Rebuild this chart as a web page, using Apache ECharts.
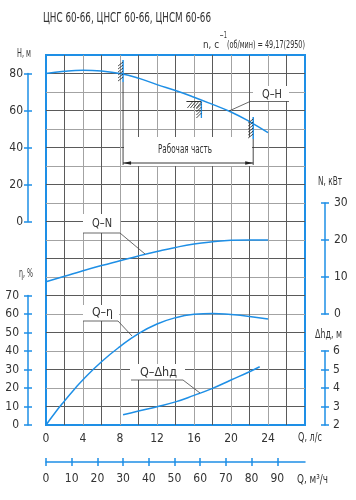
<!DOCTYPE html>
<html><head><meta charset="utf-8">
<script src="https://cdn.jsdelivr.net/npm/echarts@6/dist/echarts.min.js"></script>
<style>html,body{margin:0;padding:0;background:#fff}#c{width:356px;height:500px}</style>
</head><body><div id="c"></div>
<script>
// ---- data ----
const qH = [0,2,4,6,8,10,12,14,16,18,20,22,24];
const headH = [80,81.2,81.7,81.3,80,77.5,74,70.8,67.2,63.3,59.2,54,48];
const qN = [0,2,4,6,8,10,12,14,16,18,20,22,24];
const powerN = [8.7,10.2,11.7,13.1,14.4,15.7,16.9,18.0,18.9,19.5,19.9,20,20];
const qEta = [0,1,2,3,4,6,8,10,12,14,16,18,20,22,24];
const effEta = [0,6.8,13,18.9,24.5,34.2,42.4,49.4,54.6,58.0,59.8,60.3,59.7,58.7,57.3];
const qDh = [8.33,10,12,14,16,18,20,22,23.1];
const npshDh = [2.55,2.76,2.99,3.25,3.6,3.98,4.43,4.88,5.15];
const workQ = [8.33,16.8,22.4]; // working range start, nominal, end (л/с)
const qLsTicks = [0,4,8,12,16,20,24];
const qM3Ticks = [0,10,20,30,40,50,60,70,80,90];

const BLUE = '#1e8fe6';
const TXT = '#333';
const FONT = "'Liberation Sans Narrow','DejaVu Sans Condensed','Liberation Sans',sans-serif";
const L = 46, T = 55, W = 259, HT = 370, QMAX = 28;
const X = q => L + q * W / QMAX;

const mctx = document.createElement('canvas').getContext('2d');
function fitText(str, left, cy, width, size, color) {
  const font = size + 'px ' + FONT;
  mctx.font = font;
  const w = mctx.measureText(str).width || 1;
  return {type:'text', x:left, y:cy, scaleX: width / w, z:30, silent:true,
    style:{text:str, font:font, fill: color || TXT, textAlign:'left', textVerticalAlign:'middle', align:'left', verticalAlign:'middle'}};
}
function ln(x1,y1,x2,y2,color,width){
  return {type:'line', z:25, silent:true, shape:{x1,y1,x2,y2}, style:{stroke:color||'#333', lineWidth:width||0.8}};
}
function poly(points,color,width){
  return {type:'polyline', z:25, silent:true, shape:{points}, style:{stroke:color||'#444', lineWidth:width||0.8, fill:null}};
}
function box(x1,y1,x2,y2){
  return {type:'rect', z:20, silent:true, shape:{x:x1,y:y1,width:x2-x1,height:y2-y1}, style:{fill:'#fff'}};
}

const chart = echarts.init(document.getElementById('c'), null, {renderer:'canvas'});

const labelStyle = {color:TXT, fontFamily:FONT, fontSize:12};
function valAxis(extra){ return Object.assign({type:'value', splitLine:{show:false}}, extra); }
function halfTicks(gridIndex, pos, offset, min, max, interval){
  return valAxis({gridIndex, position:pos, offset, min, max, interval,
    axisLine:{show:false, onZero:false}, axisLabel:{show:false},
    axisTick:{show:true, length:4, lineStyle:{color:BLUE, width:1.5}}});
}
function mainAxis(gridIndex, pos, offset, min, max, interval, margin){
  return valAxis({gridIndex, position:pos, offset, min, max, interval,
    axisLine:{show:true, onZero:false, lineStyle:{color:BLUE, width:1.5}},
    axisTick:{show:true, length:4, lineStyle:{color:BLUE, width:1.5}},
    axisLabel:Object.assign({margin}, labelStyle)});
}

const grids = [
  {left:L, top:T, width:W, height:HT, show:true, borderColor:BLUE, borderWidth:2, backgroundColor:'transparent'},
  {left:L, top:73.5, width:W, height:148},
  {left:L, top:203, width:W, height:111},
  {left:L, top:295.5, width:W, height:129.5},
  {left:L, top:351, width:W, height:74},
  {left:L, top:452, width:W, height:10},
  {left:L, top:448, width:W, height:10}
].map(g => Object.assign({outerBoundsMode:'none', containLabel:false}, g));

const GRIDC = ['#5a5a5a','#a3a3a3'];
const xAxes = [
  valAxis({gridIndex:0, min:0, max:QMAX, interval:2,
    axisLine:{show:false, onZero:false}, axisTick:{show:false},
    splitLine:{show:true, showMinLine:false, showMaxLine:false, lineStyle:{color:GRIDC, width:1}},
    axisLabel:Object.assign({margin:8, formatter:v => qLsTicks.indexOf(v) >= 0 ? String(v) : ''}, labelStyle)}),
  valAxis({gridIndex:1, min:0, max:QMAX, show:false, axisLine:{onZero:false}}),
  valAxis({gridIndex:2, min:0, max:QMAX, show:false, axisLine:{onZero:false}}),
  valAxis({gridIndex:3, min:0, max:QMAX, show:false, axisLine:{onZero:false}}),
  valAxis({gridIndex:4, min:0, max:QMAX, show:false, axisLine:{onZero:false}}),
  valAxis({gridIndex:5, position:'bottom', min:0, max:QMAX*3.6, interval:10,
    axisLine:{show:true, onZero:false, lineStyle:{color:BLUE, width:1.5}},
    axisTick:{show:true, length:4, customValues:qM3Ticks, lineStyle:{color:BLUE, width:1.5}},
    axisLabel:Object.assign({margin:11, customValues:qM3Ticks, formatter:v => qM3Ticks.indexOf(v) >= 0 ? String(v) : ''}, labelStyle)}),
  valAxis({gridIndex:6, position:'bottom', min:0, max:QMAX*3.6, interval:10,
    axisLine:{show:false, onZero:false}, axisLabel:{show:false},
    axisTick:{show:true, length:4, customValues:qM3Ticks, lineStyle:{color:BLUE, width:1.5}}})
];

const yAxes = [
  valAxis({gridIndex:0, min:0, max:20, interval:1, axisLine:{show:false, onZero:false}, axisTick:{show:false}, axisLabel:{show:false},
    splitLine:{show:true, showMinLine:false, showMaxLine:false, lineStyle:{color:GRIDC, width:1}}}),
  mainAxis(1, 'left', 18, 0, 80, 20, 5),
  halfTicks(1, 'left', 14, 0, 80, 20),
  mainAxis(2, 'right', 20, 0, 30, 10, 9),
  halfTicks(2, 'right', 16, 0, 30, 10),
  mainAxis(3, 'left', 18, 0, 70, 10, 9),
  halfTicks(3, 'left', 14, 0, 70, 10),
  mainAxis(4, 'right', 20, 2, 6, 1, 8),
  halfTicks(4, 'right', 16, 2, 6, 1),
  valAxis({gridIndex:5, min:0, max:1, show:false, axisLine:{onZero:false}}),
  valAxis({gridIndex:6, min:0, max:1, show:false, axisLine:{onZero:false}})
];

function curve(xs, ys, xi, yi){
  return {type:'line', xAxisIndex:xi, yAxisIndex:yi, data: xs.map((q,i)=>[q, ys[i]]),
    smooth:true, symbol:'none', showSymbol:false, clip:false, silent:true, z:10,
    lineStyle:{color:BLUE, width:1.5}};
}

// annotations
const xL = X(workQ[0]), xM = X(workQ[1]), xR = X(workQ[2]);
const g = [];
g.push(box(253,86,289,101), box(83,214,120,233), box(83,305,119,321), box(130,364,185,380), box(124,137,252,166));
g.push(poly([[289,101.5],[250,101.5],[229,111]]));
g.push(poly([[83,233],[120,233],[145,254]]));
g.push(poly([[83,321],[118,321],[132,336]]));
g.push(poly([[131,380],[183,380],[200,393]]));
g.push(ln(xL,82,xL,165,'#333',0.9), ln(xR,139,xR,165,'#333',0.9));
g.push(ln(xL,60,xL,82,BLUE,1.5), ln(xR,117,xR,139,BLUE,1.5));
for (let y=62; y<=79; y+=3) g.push(ln(xL-5,y+4,xL,y,'#222',0.8));
for (let y=119; y<=136; y+=3) g.push(ln(xR-5,y+4,xR,y,'#222',0.8));
g.push(ln(xM-15,101.5,xM,101.5,'#333',1), ln(xM,101.5,xM,118,BLUE,1.3));
for (let x=xM-14; x<=xM-3; x+=3) g.push(ln(x,108,x+5,102,'#222',0.8));
for (let y=104; y<=115; y+=3) g.push(ln(xM-5,y+5,xM,y,'#222',0.8));
g.push(ln(xL,163,xR,163,'#222',0.9));
g.push({type:'polygon', z:26, silent:true, shape:{points:[[xL,163],[xL+8,161.3],[xL+8,164.7]]}, style:{fill:'#222'}});
g.push({type:'polygon', z:26, silent:true, shape:{points:[[xR,163],[xR-8,161.3],[xR-8,164.7]]}, style:{fill:'#222'}});
g.push(fitText('ЦНС 60-66, ЦНСГ 60-66, ЦНСМ 60-66', 43, 18, 168, 14));
g.push(fitText('n, с', 203, 45, 16, 11));
g.push(fitText('−1', 219.5, 36, 7.5, 9));
g.push(fitText('(об/мин) = 49,17(2950)', 227, 45, 78, 11));
g.push(fitText('H, м', 17, 54, 14, 12));
g.push(fitText('η, %', 19, 274, 14, 12));
g.push(fitText('N, кВт', 318, 182, 24, 12));
g.push(fitText('Δhд, м', 315, 335, 27, 12));
g.push(fitText('Q, л/с', 298, 438, 24, 12));
g.push(fitText('Q, м³/ч', 297, 480, 31, 12));
g.push(fitText('Q–H', 262, 95, 20, 12));
g.push(fitText('Q–N', 92, 224, 20, 12));
g.push(fitText('Q–η', 92, 313, 21, 12));
g.push(fitText('Q–Δhд', 140, 373, 37, 12));
g.push(fitText('Рабочая часть', 158, 150, 54, 12));

chart.setOption({
  animation:false,
  backgroundColor:'#fff',
  grid: grids,
  xAxis: xAxes,
  yAxis: yAxes,
  series: [
    curve(qH, headH, 1, 1),
    curve(qN, powerN, 2, 3),
    curve(qEta, effEta, 3, 5),
    curve(qDh, npshDh, 4, 7)
  ],
  graphic: {elements: g}
});
</script></body></html>
